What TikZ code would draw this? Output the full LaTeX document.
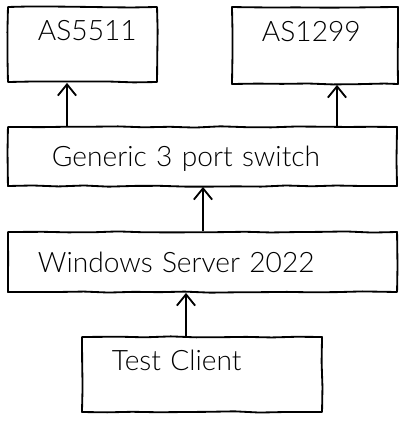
\documentclass[tikz,border=0pt]{standalone}
\usepackage{fontspec}
\setmainfont{Lato}[UprightFont=* Light]
\usetikzlibrary{arrows.meta,decorations.pathmorphing}

\tikzset{
  sketch/.style={decorate, decoration={random steps, segment length=18pt, amplitude=0.5pt}},
  box/.style={draw, sketch, line width=1.3pt, line join=round, align=left, inner ysep=0pt,
    font=\fontsize{20}{24}\selectfont, text height=0.5cm},
  tallbox/.style={box, text depth=0.72cm},
  flatbox/.style={box, text depth=0pt},
  conn/.style={-{Straight Barb[length=8pt,width=13pt]}, line width=1.3pt},
}

\begin{document}
\begin{tikzpicture}[x=0.025cm, y=-0.025cm]
\useasboundingbox (0,0) rectangle (412,427);

\node[tallbox, inner xsep=0.75cm, text width=2.225cm, minimum height=1.875cm] (as5511) at (82.5,44.5) {AS5511};
\node[tallbox, inner xsep=0.75cm, text width=2.65cm, minimum height=1.925cm] (as1299) at (315,45.5) {AS1299};

\node[flatbox, inner xsep=1.1cm, text width=7.525cm, minimum height=1.475cm] (switch) at (202.5,156.5) {Generic 3 port switch};
\node[flatbox, inner xsep=0.75cm, text width=8.225cm, minimum height=1.5cm] (server) at (202.5,262) {Windows Server 2022};

\node[tallbox, inner xsep=0.75cm, text width=4.5cm, minimum height=1.875cm] (client) at (202,374.5) {Test Client};

\draw[conn] (switch.north -| 67,0) -- (as5511.south -| 67,0);
\draw[conn] (switch.north -| 337,0) -- (as1299.south -| 337,0);
\draw[conn] (server.north -| 203,0) -- (switch.south -| 203,0);
\draw[conn] (client.north -| 186,0) -- (server.south -| 186,0);

\end{tikzpicture}
\end{document}
